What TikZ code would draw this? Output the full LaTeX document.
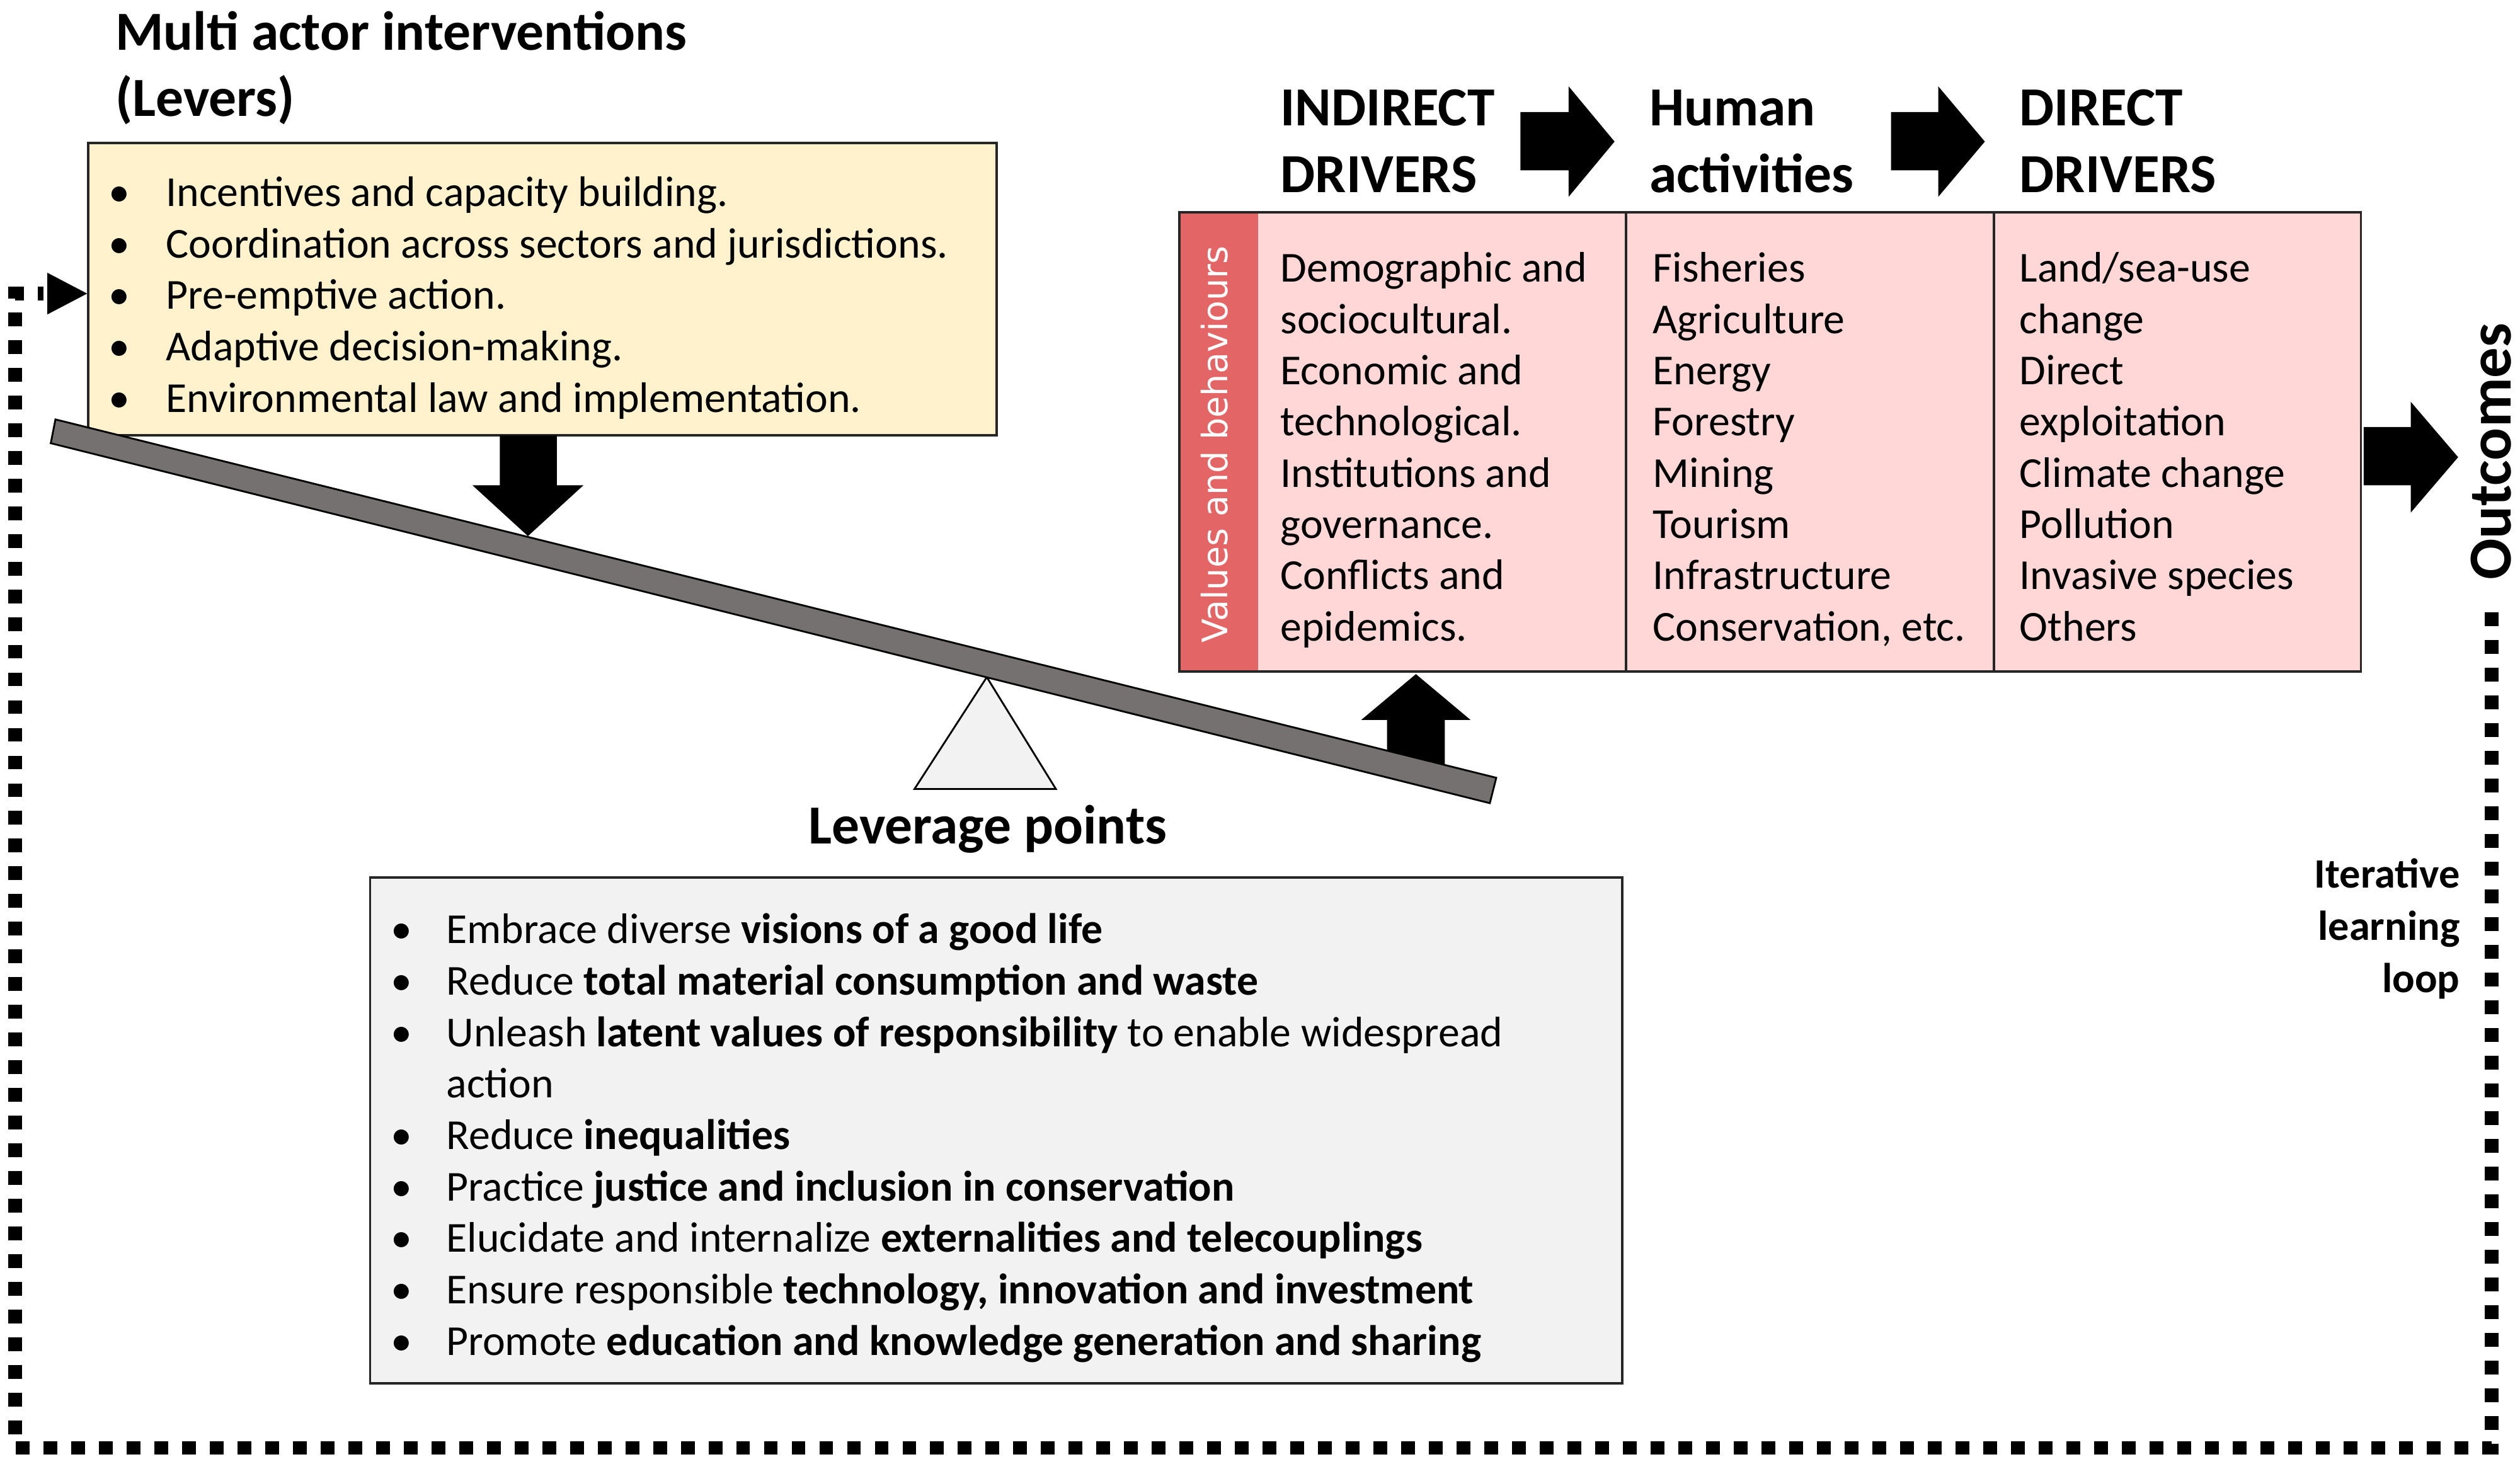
\documentclass[tikz,border=0pt]{standalone}
\usepackage{fontspec}
\setmainfont{Carlito}
\newfontfamily\vbfont{DejaVu Sans}
\usetikzlibrary{fit}
\definecolor{levfill}{HTML}{FFF2CC}
\definecolor{drvfill}{HTML}{FFD7D7}
\definecolor{stripred}{HTML}{E46565}
\definecolor{lpfill}{HTML}{F2F2F2}
\definecolor{beamgray}{HTML}{767171}
\begin{document}
\begin{tikzpicture}[x=0.025cm, y=-0.025cm,
  body/.style={font=\fontsize{18.9}{22.76}\selectfont, inner sep=0pt, anchor=base west},
  bul/.style={font=\fontsize{18.9}{22.76}\selectfont, inner sep=0pt, anchor=base},
  head/.style={font=\fontsize{24.4}{29.8}\selectfont\bfseries, inner sep=0pt, anchor=base west},
  boxline/.style={draw=black!85, line width=1.1pt},
  blockarrow/.style={fill=black},
  loopline/.style={line width=0.215cm, dash pattern=on 0.215cm off 0.216cm}
]
\useasboundingbox (0,0) rectangle (1568,914);

% ---------- Titles ----------
\node[head] (t1) at (71.5,31) {Multi actor interventions};
\node[head] (t2) at (71.5,72.2) {(Levers)};
\node[head] (h1a) at (796.5,78.4) {INDIRECT};
\node[head] (h1b) at (796.5,119.6) {DRIVERS};
\node[head] (h2a) at (1026,78.4) {Human};
\node[head] (h2b) at (1026,119.6) {activities};
\node[head] (h3a) at (1256.4,78.4) {DIRECT};
\node[head] (h3b) at (1256.4,119.6) {DRIVERS};

% ---------- Header block arrows ----------
\fill[blockarrow] (946,69.7) -- (976,69.7) -- (976,53.7) -- (1004.6,88.1) -- (976,122.5) -- (976,106) -- (946,106) -- cycle;
\fill[blockarrow] (1176.6,69.7) -- (1206,69.7) -- (1206,53.7) -- (1235,88.1) -- (1206,122.5) -- (1206,106) -- (1176.6,106) -- cycle;

% ---------- Levers box ----------
\node[boxline, fill=levfill, inner sep=0pt, fit={(55,89) (620,271)}] (levers) {};
\foreach \t [count=\i from 0] in {Incentives and capacity building., Coordination across sectors and jurisdictions., Pre-emptive action., Adaptive decision-making., Environmental law and implementation.} {
  \node[bul] (lvb\i) at (74.3, 128.4+32*\i) {\textbullet};
  \node[body] (lvt\i) at (103, 128.4+32*\i) {\t};
}

% ---------- Drivers box ----------
\node[inner sep=0pt, fill=drvfill, fit={(734,132) (1469,418)}] (drivers) {};
\fill[stripred] (734,132) rectangle (783,418);
\draw[boxline] (734,132) rectangle (1469,418);
\draw[boxline] (1011.8,132) -- (1011.8,418);
\draw[boxline] (1240.7,132) -- (1240.7,418);
\node[rotate=90, text=white, inner sep=0pt, font=\vbfont\fontsize{15.5}{18}\selectfont] (vb) at (755.5,276.5) {Values and behaviours};

\foreach \t [count=\i from 0] in {Demographic and, sociocultural., Economic and, technological., Institutions and, governance., Conflicts and, epidemics.} {
  \node[body] (ca\i) at (796.5, 175.5+31.9*\i) {\t};
}
\foreach \t [count=\i from 0] in {Fisheries, Agriculture, Energy, Forestry, Mining, Tourism, Infrastructure, {Conservation, etc.}} {
  \node[body] (cb\i) at (1028.2, 175.5+31.9*\i) {\t};
}
\foreach \t [count=\i from 0] in {Land/sea-use, change, Direct, exploitation, Climate change, Pollution, Invasive species, Others} {
  \node[body] (cc\i) at (1256.4, 175.5+31.9*\i) {\t};
}

% ---------- Outcomes ----------
\fill[blockarrow] (1470.7,265.7) -- (1500,265.7) -- (1500,250) -- (1529.5,284.5) -- (1500,319) -- (1500,302) -- (1470.7,302) -- cycle;
\node[rotate=90, inner sep=0pt, font=\fontsize{27}{32}\selectfont\bfseries] (outc) at (1550,281) {Outcomes};

% ---------- Lever arrows ----------
\fill[blockarrow] (311,271) -- (346.5,271) -- (346.5,302) -- (363,302) -- (328.5,333.6) -- (294,302) -- (311,302) -- cycle;
\fill[blockarrow] (863,480) -- (863,448) -- (847,448) -- (881,419.5) -- (915,448) -- (899,448) -- (899,480) -- cycle;

% ---------- Fulcrum and beam ----------
\filldraw[fill=lpfill, draw=black, line width=0.8pt] (614,421.4) -- (657,491) -- (569,491) -- cycle;
\filldraw[fill=beamgray, draw=black, line width=0.8pt] (34.5,261) -- (931,484) -- (927,499.8) -- (31.6,275.8) -- cycle;

\node[head, anchor=base] (lp) at (614.6,525.2) {Leverage points};

% ---------- Leverage points box ----------
\node[boxline, fill=lpfill, inner sep=0pt, fit={(230.3,546) (1009.4,861)}] (lpbox) {};
\foreach \i in {0,1,2,4,5,6,7,8} {
  \node[bul] (lpb\i) at (249.7, 587.2+32*\i) {\textbullet};
}
\node[body] (lpt0) at (277.5,587.2) {Embrace diverse \textbf{visions of a good life}};
\node[body] (lpt1) at (277.5,619.2) {Reduce \textbf{total material consumption and waste}};
\node[body] (lpt2) at (277.5,651.2) {Unleash \textbf{latent values of responsibility} to enable widespread};
\node[body] (lpt3) at (277.5,683.2) {action};
\node[body] (lpt4) at (277.5,715.2) {Reduce \textbf{inequalities}};
\node[body] (lpt5) at (277.5,747.2) {Practice \textbf{justice and inclusion in conservation}};
\node[body] (lpt6) at (277.5,779.2) {Elucidate and internalize \textbf{externalities and telecouplings}};
\node[body] (lpt7) at (277.5,811.2) {Ensure responsible \textbf{technology, innovation and investment}};
\node[body] (lpt8) at (277.5,843.2) {Promote \textbf{education and knowledge generation and sharing}};

% ---------- Iterative learning loop ----------
\node[inner sep=0pt, anchor=base east, font=\fontsize{18.5}{23}\selectfont\bfseries] (il1) at (1530.8,552.7) {Iterative};
\node[inner sep=0pt, anchor=base east, font=\fontsize{18.5}{23}\selectfont\bfseries] (il2) at (1530.8,585) {learning};
\node[inner sep=0pt, anchor=base east, font=\fontsize{18.5}{23}\selectfont\bfseries] (il3) at (1530.8,617.4) {loop};

\coordinate (loopstart) at (1550.4,381);
\coordinate (loopend) at (27,182.7);
\draw[loopline] (loopstart) -- (1550.4,901) -- (9.4,901) -- (9.4,182.7) -- (loopend);
\fill (29.4,169.7) -- (levers.west |- 0,182.7) -- (29.4,195.7) -- cycle;
\end{tikzpicture}
\end{document}
